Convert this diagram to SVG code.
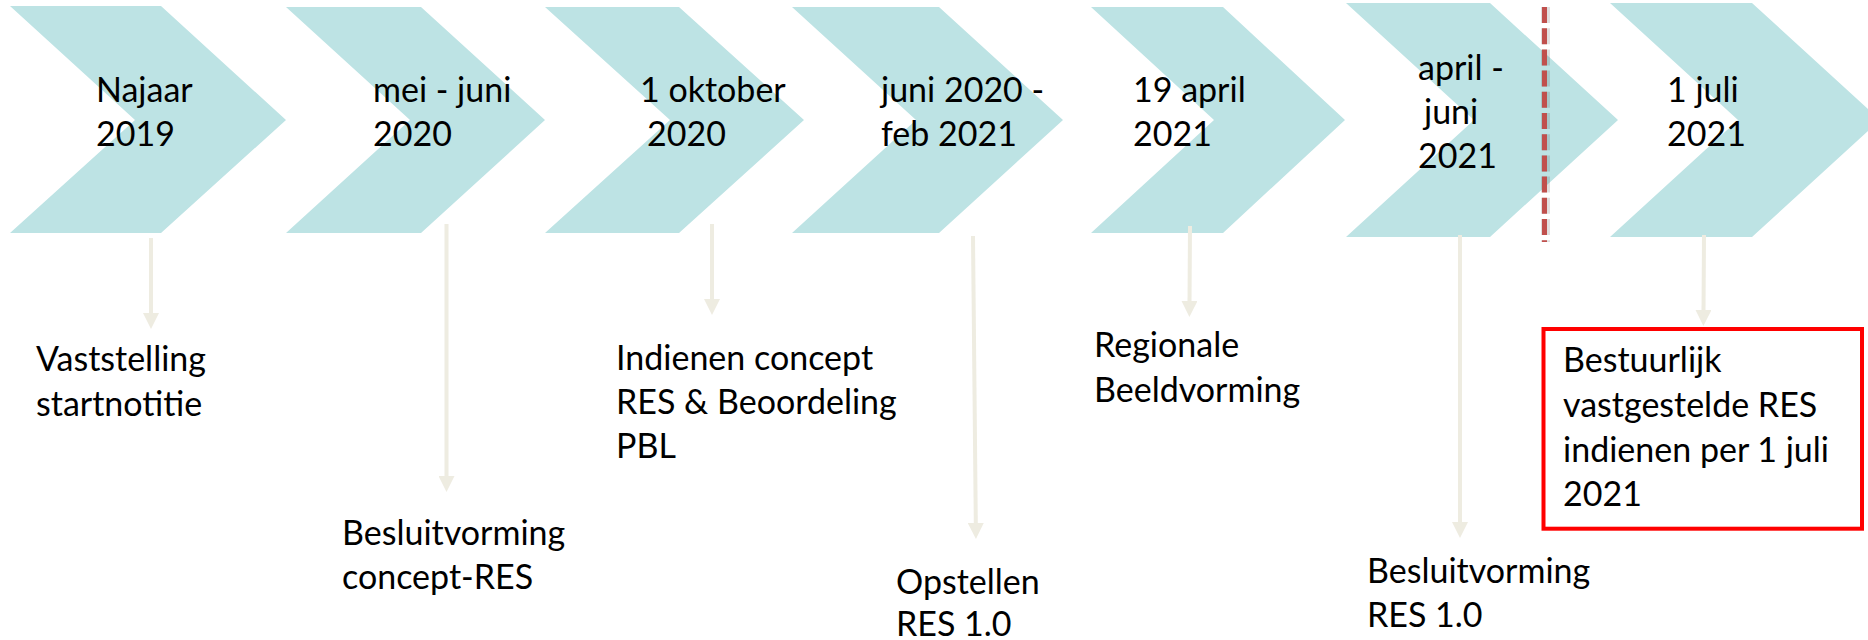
<svg xmlns="http://www.w3.org/2000/svg" width="1868" height="640" viewBox="0 0 1868 640">
  <style>
    .chev { fill: #bde3e4; }
    .t { font-family: Lato, "Liberation Sans", sans-serif; font-size: 34px; fill: #000000; }
    .conn { stroke: #eeece1; stroke-width: 4; fill: none; marker-end: url(#arr); }
    .dash { stroke: #c0504d; stroke-width: 5; stroke-dasharray: 16 5.2; fill: none; }
    .dashshadow { stroke: #000000; stroke-opacity: 0.12; stroke-width: 9; stroke-dasharray: 16 5.2; fill: none; }
    .box { fill: none; stroke: #ff0000; stroke-width: 4; }
  </style>
  <defs>
    <marker id="arr" markerUnits="userSpaceOnUse" markerWidth="16" markerHeight="16" viewBox="0 0 16 16" refX="1" refY="8" orient="auto">
      <path d="M0,0 L16,8 L0,16 Z" fill="#eeece1"/>
    </marker>
  </defs>
  <rect width="1868" height="640" fill="#ffffff"/>

  <g id="chevron-1">
    <polygon class="chev" points="10,6 161,6 286,120 161,233 10,233 135,120"/>
    <text class="t" x="96" y="102">Najaar</text>
    <text class="t" x="96" y="146">2019</text>
  </g>
  <g id="chevron-2">
    <polygon class="chev" points="286,7 421,7 545,120 421,233 286,233 410,120"/>
    <text class="t" x="373" y="102">mei - juni</text>
    <text class="t" x="373" y="146">2020</text>
  </g>
  <g id="chevron-3">
    <polygon class="chev" points="545,7 679,7 804,120 679,233 545,233 670,120"/>
    <text class="t" x="640" y="102">1 oktober</text>
    <text class="t" x="647" y="146">2020</text>
  </g>
  <g id="chevron-4">
    <polygon class="chev" points="792,7 939,7 1063,120 939,233 792,233 916,120"/>
    <text class="t" x="881" y="102">juni 2020 -</text>
    <text class="t" x="881" y="146">feb 2021</text>
  </g>
  <g id="chevron-5">
    <polygon class="chev" points="1091,7 1223,7 1345,120 1223,233 1091,233 1214,120"/>
    <text class="t" x="1133" y="102">19 april</text>
    <text class="t" x="1133" y="146">2021</text>
  </g>
  <g id="chevron-6">
    <polygon class="chev" points="1346,3 1490,3 1618,120 1490,237 1346,237 1474,120"/>
    <text class="t" x="1418" y="80">april -</text>
    <text class="t" x="1424" y="124">juni</text>
    <text class="t" x="1418" y="168">2021</text>
  </g>
  <g id="chevron-7">
    <polygon class="chev" points="1610,3 1752,3 1880,120 1752,237 1610,237 1738,120"/>
    <text class="t" x="1667" y="102">1 juli</text>
    <text class="t" x="1667" y="146">2021</text>
  </g>

  <g id="cutoff-line">
    <line class="dashshadow" x1="1545.5" y1="7" x2="1545.5" y2="242"/>
    <line class="dash" x1="1544.5" y1="7" x2="1544.5" y2="242"/>
  </g>

  <g id="connectors">
    <line class="conn" x1="151" y1="238" x2="151" y2="314"/>
    <line class="conn" x1="446.5" y1="224" x2="446.5" y2="477"/>
    <line class="conn" x1="712" y1="224" x2="712" y2="300"/>
    <line class="conn" x1="973" y1="236" x2="975.8" y2="524"/>
    <line class="conn" x1="1190" y1="226" x2="1189.5" y2="302"/>
    <line class="conn" x1="1460" y1="235" x2="1460" y2="523"/>
    <line class="conn" x1="1704" y1="235" x2="1703.5" y2="311"/>
  </g>

  <g id="label-1">
    <text class="t" x="36" y="371">Vaststelling</text>
    <text class="t" x="36" y="416">startnotitie</text>
  </g>
  <g id="label-2">
    <text class="t" x="342" y="545">Besluitvorming</text>
    <text class="t" x="342" y="589">concept-RES</text>
  </g>
  <g id="label-3">
    <text class="t" x="616" y="370">Indienen concept</text>
    <text class="t" x="616" y="414">RES &amp; Beoordeling</text>
    <text class="t" x="616" y="458">PBL</text>
  </g>
  <g id="label-4">
    <text class="t" x="896" y="594">Opstellen</text>
    <text class="t" x="896" y="636">RES 1.0</text>
  </g>
  <g id="label-5">
    <text class="t" x="1094" y="357">Regionale</text>
    <text class="t" x="1094" y="402">Beeldvorming</text>
  </g>
  <g id="label-6">
    <text class="t" x="1367" y="583">Besluitvorming</text>
    <text class="t" x="1367" y="627">RES 1.0</text>
  </g>
  <g id="label-7">
    <rect class="box" x="1543.5" y="329" width="318.5" height="199.7"/>
    <text class="t" x="1563" y="372">Bestuurlijk</text>
    <text class="t" x="1563" y="417">vastgestelde RES</text>
    <text class="t" x="1563" y="462">indienen per 1 juli</text>
    <text class="t" x="1563" y="506">2021</text>
  </g>
</svg>
